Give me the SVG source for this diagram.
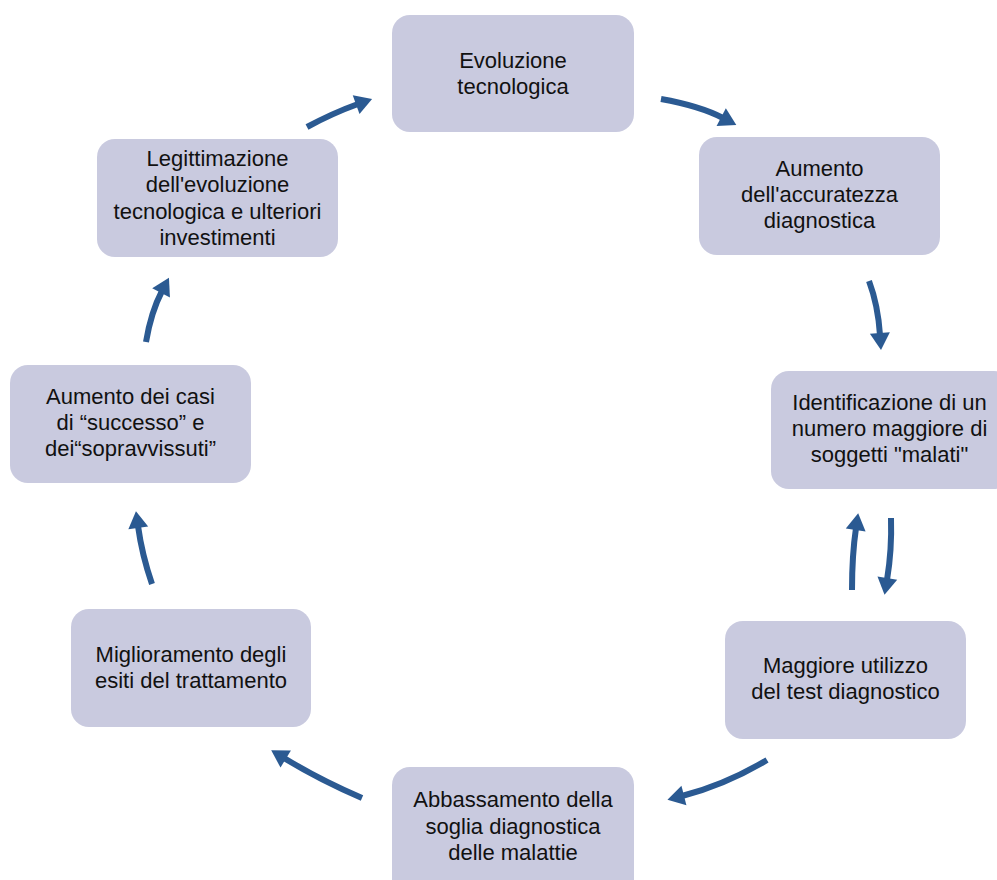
<svg xmlns="http://www.w3.org/2000/svg" width="997" height="880" viewBox="0 0 997 880">
<defs>
<style>
.box{fill:#C9CADF;}
.t{font-family:"Liberation Sans",Arial,sans-serif;font-size:22px;fill:#111;text-anchor:middle;}
.c{fill:none;stroke:#2B5A92;stroke-width:6;stroke-linecap:butt;}
</style>
<marker id="ah" markerUnits="userSpaceOnUse" markerWidth="20" markerHeight="22" viewBox="0 0 18 22" refX="2" refY="11" orient="auto">
<path d="M0,1 L17,11 L0,21 z" fill="#2B5A92"/>
</marker>
</defs>
<rect width="997" height="880" fill="#fff"/>
<g id="n1"><rect class="box" x="392" y="15" width="242" height="117" rx="18"/>
<text class="t" x="513" y="68">Evoluzione</text><text class="t" x="513" y="94">tecnologica</text></g>
<g id="n2"><rect class="box" x="699" y="137" width="241" height="118" rx="18"/>
<text class="t" x="819.5" y="176">Aumento</text><text class="t" x="819.5" y="202">dell'accuratezza</text><text class="t" x="819.5" y="228">diagnostica</text></g>
<g id="n3"><rect class="box" x="771" y="371" width="241" height="118" rx="18"/>
<text class="t" x="889.5" y="410">Identificazione di un</text><text class="t" x="889.5" y="436">numero maggiore di</text><text class="t" x="889.5" y="462">soggetti "malati"</text></g>
<g id="n4"><rect class="box" x="725" y="621" width="241" height="118" rx="18"/>
<text class="t" x="845.5" y="673">Maggiore utilizzo</text><text class="t" x="845.5" y="699">del test diagnostico</text></g>
<g id="n5"><rect class="box" x="392" y="767" width="242" height="130" rx="18"/>
<text class="t" x="513" y="807">Abbassamento della</text><text class="t" x="513" y="834">soglia diagnostica</text><text class="t" x="513" y="860">delle malattie</text></g>
<g id="n6"><rect class="box" x="71" y="609" width="240" height="118" rx="18"/>
<text class="t" x="191" y="662">Miglioramento degli</text><text class="t" x="191" y="688">esiti del trattamento</text></g>
<g id="n7"><rect class="box" x="10" y="365" width="241" height="118" rx="18"/>
<text class="t" x="130.5" y="404">Aumento dei casi</text><text class="t" x="130.5" y="430">di “successo” e</text><text class="t" x="130.5" y="456">dei“sopravvissuti”</text></g>
<g id="n8"><rect class="box" x="97" y="139" width="241" height="118" rx="18"/>
<text class="t" x="217.5" y="166">Legittimazione</text><text class="t" x="217.5" y="192">dell'evoluzione</text><text class="t" x="217.5" y="219">tecnologica e ulteriori</text><text class="t" x="217.5" y="245">investimenti</text></g>
<g id="connectors">
<path class="c" marker-end="url(#ah)" d="M307,127 Q333,113 358,104"/>
<path class="c" marker-end="url(#ah)" d="M661,99 Q700,106 723,118"/>
<path class="c" marker-end="url(#ah)" d="M869,281 Q878,305 880,335"/>
<path class="c" marker-end="url(#ah)" d="M852,590 Q852,555 856,528"/>
<path class="c" marker-end="url(#ah)" d="M891,518 Q892,550 887,580"/>
<path class="c" marker-end="url(#ah)" d="M767,760 Q725,785 682,796"/>
<path class="c" marker-end="url(#ah)" d="M362,798 Q320,780 284,758"/>
<path class="c" marker-end="url(#ah)" d="M152,584 Q142,555 138,526"/>
<path class="c" marker-end="url(#ah)" d="M146,342 Q151,312 162,291"/>
</g>
</svg>
